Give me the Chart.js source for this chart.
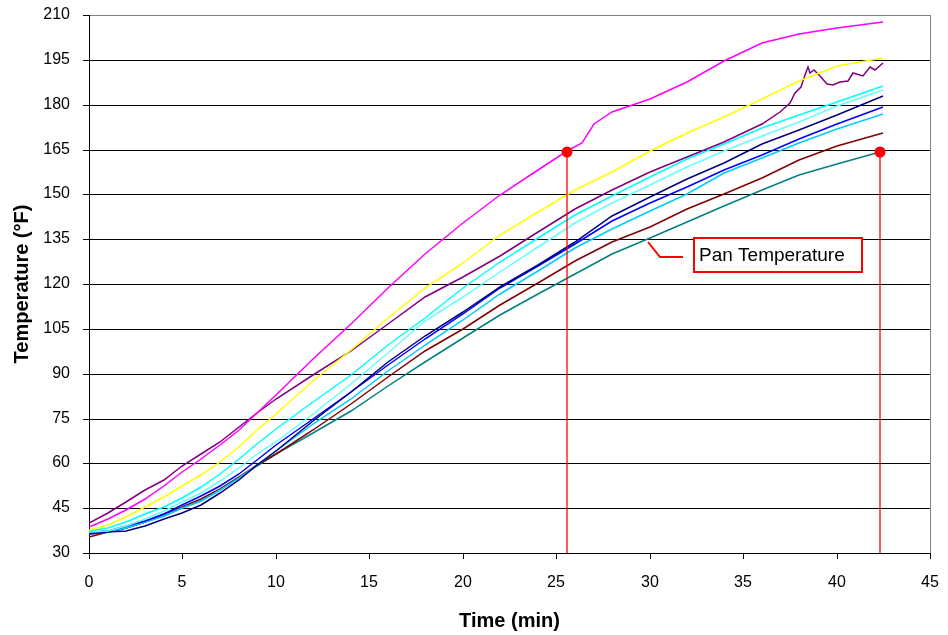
<!DOCTYPE html>
<html>
<head>
<meta charset="utf-8">
<script src="https://cdn.jsdelivr.net/npm/chart.js@4.4.1/dist/chart.umd.min.js"></script>
<style>
  html, body { margin: 0; padding: 0; background: #fff; }
  #wrap { width: 948px; height: 635px; }
</style>
</head>
<body>
<div id="wrap"><canvas id="panChart" width="948" height="635"></canvas></div>
<script>
// Time grid (min) shared by most probes
const TIME = [0, 1, 2, 3, 4, 5, 6, 7, 8, 9, 10, 12, 14, 16, 18, 20, 22, 24, 26, 28, 30, 32, 34, 36, 38, 40, 42.5];
const TIME_TEAL = [0, 1, 2, 3, 4, 5, 6, 7, 8, 9, 10, 12, 14, 16, 18, 20, 22, 24, 26, 28, 30, 32, 34, 36, 38, 40, 42.3];
const TIME_MAGENTA = [0, 1, 2, 3, 4, 5, 6, 7, 8, 9, 10, 12, 14, 16, 18, 20, 22, 24, 25.6, 26.4, 27, 28, 30, 32, 34, 36, 38, 40, 42.5];
const TIME_PURPLE = [0, 1, 2, 3, 4, 5, 6, 7, 8, 9, 10, 12, 14, 16, 18, 20, 22, 24, 26, 28, 30, 32, 34, 36, 37, 37.5, 37.8, 38.1, 38.3, 38.45, 38.6, 38.8, 39.1, 39.5, 39.8, 40.2, 40.6, 40.9, 41.4, 41.8, 42.05, 42.5];

// Temperatures (°F)
const magentaTemp = [38.8, 41.5, 44.5, 48, 52.5, 57, 61.5, 66, 71, 77, 83, 95, 106.5, 118.5, 130, 140.5, 149.7, 158.3, 164.5, 167.2, 173.5, 177.5, 182, 187.5, 194.5, 200.5, 203.5, 205.5, 207.8];
const purpleTemp = [40, 43.5, 47, 51, 54.5, 59, 63, 67, 72, 77, 81.5, 89.5, 97.5, 106.5, 115.5, 122.5, 129.5, 137.5, 145, 151.5, 157.6, 162.5, 167.5, 173.5, 177.5, 180.5, 184, 186, 190, 192.5, 190.5, 191.5, 189.5, 187, 186.5, 187.5, 188, 190.5, 189.5, 192.5, 191.5, 194];
const yellowTemp = [37.7, 39.5, 42, 45.3, 48.8, 52.3, 56, 60.5, 65.5, 71, 76.5, 87.5, 98, 108.5, 118.5, 127, 136.5, 144, 151.5, 157.5, 164.5, 170.5, 176, 182, 188, 193, 195.5];
const cyanTemp = [37.5, 38.5, 40.5, 43, 45.5, 48.5, 52, 56.5, 61.5, 66.5, 71.5, 80.5, 89.5, 99.5, 108.5, 118.8, 127.5, 135.5, 143, 149.5, 155.9, 161.8, 167, 172.3, 176.5, 181, 186.2];
const lightCyanTemp = [37, 37.5, 39, 41.5, 44, 47, 50, 54, 58.5, 63, 67, 76.5, 86.5, 97, 107.5, 115.5, 124, 132.5, 140.5, 147, 153, 159.3, 164.6, 169.4, 174.3, 179.5, 184.9];
const navyTemp = [36.5, 37, 37.5, 39, 41.5, 43.5, 46, 50, 54.5, 59.5, 64, 74, 84, 94, 102.5, 110.5, 119, 126.5, 134, 142.8, 149.2, 155, 160.5, 166.7, 171.5, 176.5, 182.9];
const blueTemp = [37, 37.5, 39, 40.8, 43, 46, 49, 52.5, 56.5, 61, 66, 75, 84, 93, 101.5, 110, 118.5, 126, 133.5, 141, 147, 152.5, 158, 163, 168.5, 173.5, 179.1];
const skyBlueTemp = [36.5, 37, 38.5, 40.3, 42.5, 45, 47.5, 51, 55, 59.5, 64, 73, 81.5, 91, 99.5, 108, 116.5, 124.5, 132, 138.5, 144.5, 150, 157, 162, 167.1, 172, 176.9];
const maroonTemp = [35.5, 37, 38.5, 40.5, 43, 45.5, 48, 51.5, 55.5, 59.5, 63, 71, 80, 89, 97.5, 105, 113, 120.5, 127.8, 134, 139, 145, 150.2, 155.5, 161.5, 166.3, 170.6];
const tealTemp = [36.5, 37, 38.5, 40.3, 42.5, 45, 47.5, 51, 55, 59, 63, 70, 77.5, 86, 94, 102, 109.5, 116.5, 123.5, 130, 135.5, 140.8, 146, 151.5, 156.5, 160.2, 164.3];

// Pan temperature markers (time, temp)
const PAN_TIMES = [25.6, 42.3];
const PAN_TEMPS = [164, 164.3];

// Callout: tip on teal line, elbow, and the label box (data units)
const CALLOUT_PATH_X = [29.9, 30.55, 31.8];
const CALLOUT_PATH_Y = [134, 129, 129];
const CALLOUT_BOX_X = [32.35, 41.35];
const CALLOUT_BOX_Y = [135.4, 124];
const CALLOUT_TEXT = "Pan Temperature";

const FONT = "'Liberation Sans', Arial, sans-serif";

function toPoints(times, temps) {
  return times.map((t, i) => ({ x: t, y: temps[i] }));
}

function probeLine(times, temps, color) {
  return {
    data: toPoints(times, temps),
    borderColor: color,
    borderWidth: 1.5,
    pointRadius: 0,
    tension: 0,
    fill: false,
  };
}

const probeDatasets = [
  probeLine(TIME_MAGENTA, magentaTemp, "#FF00FF"),
  probeLine(TIME, yellowTemp, "#FFFF00"),
  probeLine(TIME_PURPLE, purpleTemp, "#800080"),
  probeLine(TIME, cyanTemp, "#00FFFF"),
  probeLine(TIME, lightCyanTemp, "#66FFFF"),
  probeLine(TIME, navyTemp, "#000080"),
  probeLine(TIME, blueTemp, "#0000FF"),
  probeLine(TIME, skyBlueTemp, "#00CCFF"),
  probeLine(TIME, maroonTemp, "#800000"),
  probeLine(TIME_TEAL, tealTemp, "#008080"),
];

// Vertical drop lines from each pan temperature marker to the axis
const markerDatasets = PAN_TIMES.map((t, i) => ({
  data: [
    { x: t, y: 30 },
    { x: t, y: PAN_TEMPS[i] },
  ],
  borderColor: "#FF0000",
  borderWidth: 1.3,
  pointRadius: [0, 5.5],
  pointBackgroundColor: "#FF0000",
  pointBorderWidth: 0,
  order: -1,
}));

const calloutPlugin = {
  id: "callout",
  afterDatasetsDraw(chart) {
    const { ctx, scales } = chart;
    const xs = scales.x;
    const ys = scales.y;
    ctx.save();
    ctx.strokeStyle = "#FF0000";
    ctx.lineWidth = 2;
    ctx.beginPath();
    CALLOUT_PATH_X.forEach((vx, i) => {
      const px = xs.getPixelForValue(vx);
      const py = ys.getPixelForValue(CALLOUT_PATH_Y[i]);
      if (i === 0) ctx.moveTo(px, py);
      else ctx.lineTo(px, py);
    });
    ctx.stroke();

    const left = xs.getPixelForValue(CALLOUT_BOX_X[0]);
    const right = xs.getPixelForValue(CALLOUT_BOX_X[1]);
    const top = ys.getPixelForValue(CALLOUT_BOX_Y[0]);
    const bottom = ys.getPixelForValue(CALLOUT_BOX_Y[1]);
    ctx.fillStyle = "#FFFFFF";
    ctx.fillRect(left, top, right - left, bottom - top);
    ctx.strokeRect(left, top, right - left, bottom - top);

    ctx.fillStyle = "#000000";
    ctx.font = "19px " + FONT;
    ctx.textAlign = "left";
    ctx.textBaseline = "middle";
    ctx.fillText(CALLOUT_TEXT, left + 5, (top + bottom) / 2 + 1);
    ctx.restore();
  },
};

const ctx = document.getElementById("panChart").getContext("2d");
new Chart(ctx, {
  type: "line",
  data: { datasets: probeDatasets.concat(markerDatasets) },
  options: {
    responsive: false,
    animation: false,
    layout: { padding: { top: 15, right: 18, left: 0, bottom: 0 } },
    plugins: { legend: { display: false }, tooltip: { enabled: false } },
    scales: {
      x: {
        type: "linear",
        min: 0,
        max: 45,
        alignToPixels: true,
        afterFit: (scale) => {
          scale.height = 82;
          scale.paddingLeft = 0;
          scale.paddingRight = 0;
        },
        ticks: {
          stepSize: 5,
          color: "#000",
          padding: 14,
          maxRotation: 0,
          font: { family: FONT, size: 16 },
        },
        grid: {
          color: (c) => (c.tick && c.tick.value === 45 ? "#808080" : "rgba(0,0,0,0)"),
          tickColor: "#000",
          tickLength: 6,
          lineWidth: 1,
        },
        border: { color: "#000", width: 1 },
        title: {
          display: true,
          text: "Time (min)",
          color: "#000",
          font: { family: FONT, size: 20, weight: "bold" },
          padding: { top: 0, bottom: 2 },
        },
      },
      y: {
        min: 30,
        max: 210,
        alignToPixels: true,
        afterFit: (scale) => {
          scale.width = 89;
          scale.paddingTop = 0;
          scale.paddingBottom = 0;
        },
        ticks: {
          stepSize: 15,
          color: "#000",
          padding: 13,
          font: { family: FONT, size: 16 },
        },
        grid: {
          color: (c) => (c.tick && c.tick.value === 210 ? "#808080" : "#000"),
          tickColor: "#000",
          tickLength: 6,
          lineWidth: 1,
        },
        border: { color: "#000", width: 1 },
        title: {
          display: true,
          text: "Temperature (°F)",
          color: "#000",
          font: { family: FONT, size: 20, weight: "bold" },
          padding: { top: 10, bottom: 0 },
        },
      },
    },
  },
  plugins: [calloutPlugin],
});
</script>
</body>
</html>
